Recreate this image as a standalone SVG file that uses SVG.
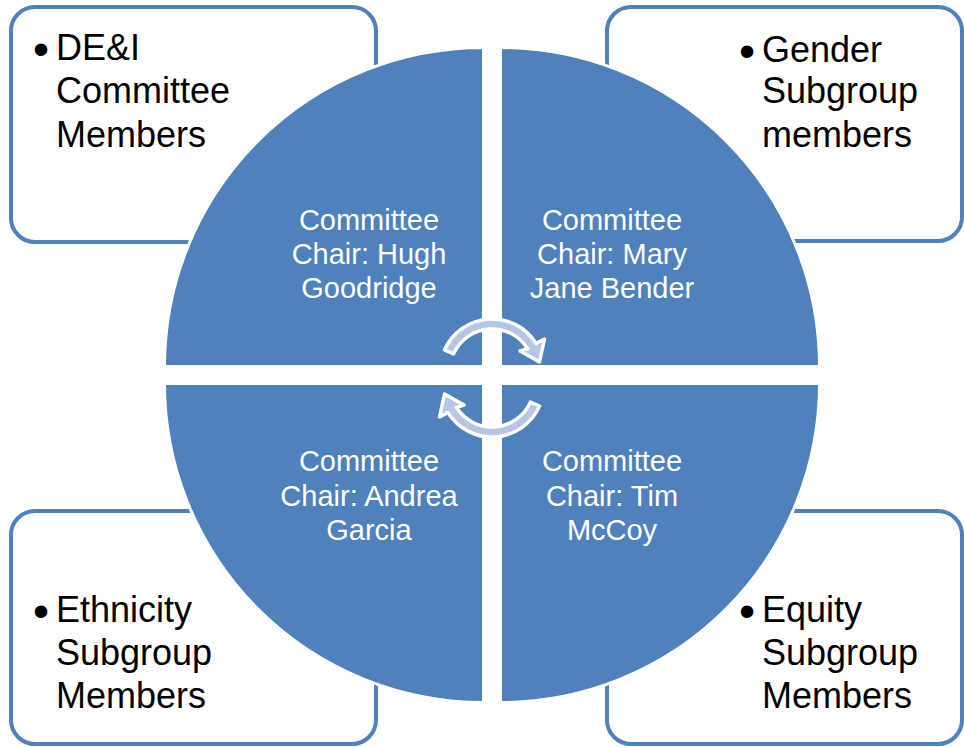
<svg xmlns="http://www.w3.org/2000/svg" width="964" height="747" viewBox="0 0 964 747">
  <style>
    .box { fill: #ffffff; stroke: #4F81BD; stroke-width: 4; }
    .quad { fill: #4F81BD; stroke: #ffffff; stroke-width: 3; }
    .boxtext { font-family: "Liberation Sans", Arial, sans-serif; font-size: 36px; fill: #000000; }
    .bullet { font-family: "Liberation Sans", Arial, sans-serif; font-size: 46px; fill: #000000; }
    .quadtext { font-family: "Liberation Sans", Arial, sans-serif; font-size: 29px; fill: #ffffff; text-anchor: middle; }
    .cycle { fill: #B7C6E2; stroke: #ffffff; stroke-width: 3.5; stroke-linejoin: round; }
  </style>
  <defs>
    <!-- curved arrow over the top of the hub, head pointing down-right -->
    <path id="cycleArrow" d="M444.5,349.9 A52,52 0 0 1 536.1,343.4 L544.5,339 L539.5,362 L520,351 L527.6,348.7 A42,42 0 0 0 453.6,353.9 Z"/>
  </defs>

  <!-- outer member boxes (drawn under the circle) -->
  <g id="box-dei">
    <rect class="box" x="11" y="7" width="365" height="235" rx="24" ry="24"/>
  </g>
  <g id="box-gender">
    <rect class="box" x="607" y="7" width="355" height="234" rx="24" ry="24"/>
  </g>
  <g id="box-ethnicity">
    <rect class="box" x="11" y="511" width="365" height="233" rx="24" ry="24"/>
  </g>
  <g id="box-equity">
    <rect class="box" x="607" y="511" width="355" height="233" rx="24" ry="24"/>
  </g>

  <!-- four quarter-circle segments -->
  <g id="quad-hugh">
    <path class="quad" d="M483.5,366.5 L164.5,366.5 A319,319 0 0 1 483.5,47.5 Z"/>
  </g>
  <g id="quad-mary">
    <path class="quad" d="M500.5,366.5 L500.5,47.5 A319,319 0 0 1 819.5,366.5 Z"/>
  </g>
  <g id="quad-tim">
    <path class="quad" d="M500.5,383.5 L819.5,383.5 A319,319 0 0 1 500.5,702.5 Z"/>
  </g>
  <g id="quad-andrea">
    <path class="quad" d="M483.5,383.5 L483.5,702.5 A319,319 0 0 1 164.5,383.5 Z"/>
  </g>

  <!-- box labels -->
  <g id="label-dei">
    <text class="bullet" x="33" y="65">•</text>
    <text class="boxtext" x="56" y="60">DE&amp;I</text>
    <text class="boxtext" x="56" y="103">Committee</text>
    <text class="boxtext" x="56" y="147">Members</text>
  </g>
  <g id="label-gender">
    <text class="bullet" x="739" y="67">•</text>
    <text class="boxtext" x="762" y="62">Gender</text>
    <text class="boxtext" x="762" y="103">Subgroup</text>
    <text class="boxtext" x="762" y="147">members</text>
  </g>
  <g id="label-ethnicity">
    <text class="bullet" x="33" y="627">•</text>
    <text class="boxtext" x="56" y="622">Ethnicity</text>
    <text class="boxtext" x="56" y="665">Subgroup</text>
    <text class="boxtext" x="56" y="708">Members</text>
  </g>
  <g id="label-equity">
    <text class="bullet" x="739" y="627">•</text>
    <text class="boxtext" x="762" y="622">Equity</text>
    <text class="boxtext" x="762" y="665">Subgroup</text>
    <text class="boxtext" x="762" y="708">Members</text>
  </g>

  <!-- quadrant labels -->
  <g id="label-hugh">
    <text class="quadtext" x="369" y="230">Committee</text>
    <text class="quadtext" x="369" y="264">Chair: Hugh</text>
    <text class="quadtext" x="369" y="298">Goodridge</text>
  </g>
  <g id="label-mary">
    <text class="quadtext" x="612" y="230">Committee</text>
    <text class="quadtext" x="612" y="264">Chair: Mary</text>
    <text class="quadtext" x="612" y="298">Jane Bender</text>
  </g>
  <g id="label-andrea">
    <text class="quadtext" x="369" y="471">Committee</text>
    <text class="quadtext" x="369" y="506">Chair: Andrea</text>
    <text class="quadtext" x="369" y="540">Garcia</text>
  </g>
  <g id="label-tim">
    <text class="quadtext" x="612" y="471">Committee</text>
    <text class="quadtext" x="612" y="506">Chair: Tim</text>
    <text class="quadtext" x="612" y="540">McCoy</text>
  </g>

  <!-- cycle connectors in the hub -->
  <g id="connectors">
    <use href="#cycleArrow" class="cycle"/>
    <use href="#cycleArrow" class="cycle" transform="rotate(180 492 378)"/>
  </g>
</svg>
